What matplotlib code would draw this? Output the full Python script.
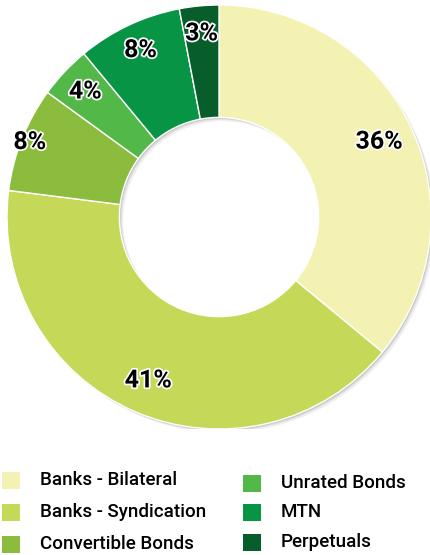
import matplotlib
matplotlib.use("Agg")
import matplotlib.pyplot as plt
import matplotlib.patheffects as pe
from matplotlib.patches import Rectangle, Wedge
import numpy as np

categories = ["Banks - Bilateral", "Banks - Syndication", "Convertible Bonds",
              "Unrated Bonds", "MTN", "Perpetuals"]
shares = [36, 41, 8, 4, 8, 3]
colors = ["#F3F2B2", "#C5D858", "#8BBC3E", "#52B848", "#079444", "#075E2B"]

FONT = ["Roboto", "Liberation Sans", "DejaVu Sans"]
plt.rcParams["font.family"] = FONT

fig = plt.figure(figsize=(4.3, 5.55), dpi=100)
ax = fig.add_axes([0.0163, 0.227, 0.986, 0.764])

# soft drop shadow under the ring
for off, a in [(0.018, 0.06), (0.011, 0.08), (0.006, 0.10)]:
    ax.add_patch(Wedge((off, -off), 1.0, 0, 360, width=0.53,
                       facecolor="black", alpha=a, edgecolor="none", zorder=0))

wedges, _ = ax.pie(shares, colors=colors, startangle=90, counterclock=False,
                   radius=1.0, wedgeprops=dict(width=0.53, edgecolor="white",
                                               linewidth=1.0, zorder=1))
ax.set_aspect("equal")
ax.set_xlim(-1, 1)
ax.set_ylim(-1, 1)
ax.axis("off")

# label radii per slice (fraction of outer radius)
label_r = [0.835, 0.84, 0.96, 0.865, 0.87, 0.87]
start = 90.0
for v, r in zip(shares, label_r):
    mid = np.deg2rad(start - v * 3.6 / 2)
    start -= v * 3.6
    ax.text(r * np.cos(mid), r * np.sin(mid), f"{v}%", ha="center",
            va="center", fontsize=18, fontweight="bold", color="black",
            zorder=3,
            path_effects=[pe.withStroke(linewidth=2.5, foreground="white")])

# legend, two columns
left = [(0.005, 480), (0.005, 512), (0.005, 544)]
right = [(0.565, 483), (0.565, 512), (0.565, 542)]
for (x, ypx), name, c in zip(left + right, categories, colors):
    y = 1 - ypx / 555
    fig.add_artist(Rectangle((x, y - 8.5 / 555), 18 / 430, 17 / 555,
                             transform=fig.transFigure, facecolor=c,
                             edgecolor="none"))
    fig.text(x + 38 / 430, y, name, ha="left", va="center", fontsize=13.5,
             fontweight="medium", color="black")

fig.savefig("out.png", dpi=100)
